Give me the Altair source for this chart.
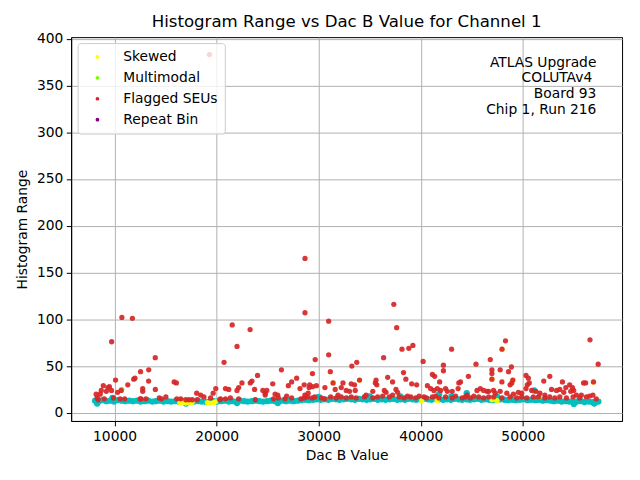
import altair as alt
import pandas as pd

FONT = "DejaVu Sans"

TITLE = "Histogram Range vs Dac B Value for Channel 1"
X_TITLE = "Dac B Value"
Y_TITLE = "Histogram Range"
X_TICKS = [10000, 20000, 30000, 40000, 50000]
Y_TICKS = [0, 50, 100, 150, 200, 250, 300, 350, 400]
ANNOTATION_LINES = ["ATLAS Upgrade", "COLUTAv4", "Board 93", "Chip 1, Run 216"]

CATEGORIES = ["Skewed", "Multimodal", "Flagged SEUs", "Repeat Bin"]
CAT_COLORS = ["#ffff00", "#7cfc00", "#d62728", "#800080"]

# baseline (unflagged) points, cyan
cyan_pts = [
    (8100, 13), (8450, 12.5), (8800, 13.5), (9200, 12.5), (9550, 13), (9950, 12),
    (10300, 13.5), (10700, 13), (11050, 12.5), (11450, 13), (11800, 12.5),
    (12200, 13), (12550, 12), (12950, 12.5), (13300, 13), (13700, 12), (14050, 12.5),
    (14450, 13), (14800, 12), (15200, 12.5), (15550, 12), (15950, 12.5),
    (16300, 12), (16700, 12.5), (17050, 12), (17450, 11.5), (17800, 12), (18200, 12.5),
    (18550, 12), (18950, 11.5), (19300, 12), (19700, 12.5),
    (20050, 12), (20450, 12.5), (20800, 13), (21200, 12), (21550, 12.5), (21950, 12),
    (22300, 13), (22700, 12.5), (23050, 12), (23450, 12.5), (23800, 13),
    (24200, 12.5), (24550, 12), (24950, 12.5), (25300, 13), (25700, 12.5), (26050, 12),
    (26450, 13), (26800, 12.5), (27200, 13), (27550, 12.5), (27950, 13),
    (28300, 13.5), (28700, 14), (29050, 13.5), (29450, 14), (29800, 14.5), (30200, 14),
    (30550, 14.5), (30950, 14), (31300, 15), (31700, 14.5), (32050, 14),
    (32450, 14.5), (32800, 15), (33200, 14.5), (33550, 14), (33950, 15), (34300, 14.5),
    (34700, 14), (35050, 14.5), (35450, 15), (35800, 14), (36200, 14.5),
    (36550, 14), (36950, 14.5), (37300, 15), (37700, 14), (38050, 14.5), (38450, 14),
    (38800, 15), (39200, 14.5), (39550, 14), (39950, 14.5), (40300, 15),
    (40700, 14.5), (41050, 14), (41450, 15), (41800, 14.5), (42200, 14), (42550, 14.5),
    (42950, 14), (43300, 15), (43700, 14.5), (44050, 14), (44450, 14.5),
    (44800, 14), (45200, 14.5), (45550, 15), (45950, 14), (46300, 14.5), (46700, 14),
    (47050, 13.5), (47450, 14), (47800, 14.5), (48200, 14), (48550, 13.5),
    (48950, 14), (49300, 13.5), (49700, 14), (50050, 14.5), (50450, 13.5), (50800, 14),
    (51200, 13.5), (51550, 14), (51950, 13), (52300, 13.5), (52700, 13),
    (53050, 12.5), (53450, 13), (53800, 12), (54200, 12.5), (54550, 12), (54950, 11.5),
    (55300, 12), (55700, 12.5), (56050, 11.5), (56450, 12), (56800, 11.5), (57200, 12),
    (57400, 12),
    (44500, 21), (51100, 24), (41800, 20), (8300, 10), (9800, 16), (17000, 10),
    (26000, 10.5), (35000, 17.5), (43000, 17.5), (47500, 17), (55000, 9.5),
    (57000, 10), (22000, 10.5), (30000, 17), (38000, 17.5),
]

skewed_pts = [
    (16400, 11), (16700, 11), (17000, 10.5), (17300, 11), (17600, 11), (16900, 12.5),
    (19100, 11), (19400, 10.5), (19700, 11), (19900, 12), (40100, 13), (41600, 13),
    (41650, 16), (46970, 14), (47460, 13), (47140, 15),
    (34000, 35), (47960, 68), (46970, 36), (49020, 35), (56920, 33), (31410, 32),
]

multimodal_pts = [(10700, 25), (51600, 17)]

flagged_pts = [
    (8200, 20), (8300, 16), (8400, 14), (8600, 20), (8700, 24), (8900, 29), (9000, 15),
    (9200, 23), (9350, 27), (9500, 28), (9700, 24), (9720, 76), (9900, 16), (10100, 35),
    (10300, 22), (10550, 15), (10650, 24), (10720, 102), (11000, 15), (11300, 30),
    (11750, 101), (11880, 36), (12000, 37), (12500, 15), (12550, 44), (12600, 15),
    (12760, 26), (12760, 23), (13080, 15), (13340, 34), (13350, 46), (13990, 59),
    (14000, 25), (14380, 16), (14600, 15), (15030, 17), (15840, 33), (16060, 32),
    (16100, 15), (16490, 15), (16980, 14), (17300, 14), (17620, 14), (18050, 21),
    (18100, 14), (18440, 19), (18760, 17), (19300, 383), (19410, 16), (19660, 21),
    (19920, 26), (20310, 14), (20380, 15), (20730, 54), (20870, 26), (20870, 15),
    (21190, 25), (21350, 16), (21530, 94), (22000, 24), (22000, 71), (22160, 27),
    (22160, 15), (22480, 32), (23280, 89), (23300, 32), (23460, 34), (23720, 25),
    (23790, 14), (24010, 40), (24530, 24), (24760, 21), (24760, 19), (24920, 24),
    (25500, 31), (25570, 15), (25730, 20), (25990, 19), (26050, 16), (26350, 46),
    (26700, 15), (26860, 18), (27030, 29), (27350, 33), (27350, 16), (27840, 37),
    (28170, 26), (28260, 15), (28580, 30), (28580, 16), (28650, 19), (28660, 165),
    (28660, 107), (28900, 17), (28970, 21), (29060, 27), (29120, 30), (29360, 16),
    (29390, 28), (29390, 42), (29620, 17), (29660, 57), (29780, 29), (30270, 16),
    (30590, 15), (30610, 27), (30980, 98), (30980, 62), (31140, 44), (31170, 17),
    (31410, 32), (31620, 25), (31720, 16), (31890, 19), (32210, 27), (32210, 17),
    (32380, 32), (32700, 24), (32700, 16), (33020, 23), (33190, 31), (33190, 17),
    (33250, 50), (33510, 30), (33580, 24), (33670, 16), (33730, 54), (34000, 35),
    (34480, 17), (34640, 19), (35300, 23), (35300, 16), (35550, 32), (35620, 35),
    (35690, 30), (35780, 17), (36270, 18), (36360, 59), (36430, 24), (36600, 22),
    (36760, 38), (36920, 17), (37240, 33), (37240, 19), (37360, 116), (37570, 25),
    (37640, 91), (37730, 22), (37890, 17), (38160, 68), (38310, 43), (38380, 16),
    (38540, 36), (38700, 18), (38830, 69), (39020, 17), (39110, 31), (39230, 72),
    (39510, 16), (39600, 30), (39840, 18), (40230, 55), (40320, 17), (40550, 16),
    (40650, 29), (40970, 26), (41140, 41), (41140, 17), (41290, 24), (41360, 39),
    (41460, 18), (41620, 26), (41780, 16), (41850, 33), (41940, 24), (42220, 51),
    (42220, 45), (42430, 26), (42430, 17), (42600, 23), (43020, 68), (43080, 23),
    (43080, 16), (43410, 18), (43660, 26), (43730, 32), (43890, 33), (44060, 16),
    (44380, 17), (44540, 19), (44670, 39), (44870, 16), (45200, 18), (45410, 52),
    (45510, 24), (45680, 17), (45840, 26), (46160, 24), (46160, 16), (46490, 23),
    (46650, 23), (46650, 17), (46810, 57), (46970, 46), (46970, 42), (46970, 36),
    (47130, 24), (47140, 17), (47300, 21), (47780, 23), (47780, 46), (47950, 33),
    (47950, 16), (47960, 68), (48300, 77), (48430, 21), (48600, 44), (48750, 30),
    (48750, 17), (48880, 49), (48920, 32), (49020, 35), (49080, 20), (49410, 16),
    (49560, 22), (49890, 21), (49890, 17), (50310, 40), (50310, 26), (50380, 16),
    (50440, 30), (50540, 37), (50630, 32), (50870, 24), (51030, 17), (51280, 23),
    (51520, 17), (51670, 21), (52050, 34), (52160, 19), (52160, 16), (52640, 39),
    (52640, 17), (52810, 25), (53130, 16), (53300, 24), (53620, 25), (53620, 17),
    (53880, 33), (54010, 22), (54210, 27), (54270, 16), (54590, 30), (54690, 23),
    (54860, 27), (54920, 17), (54980, 24), (55240, 19), (55570, 16), (55730, 19),
    (55950, 32), (56150, 32), (56220, 17), (56540, 18), (56580, 78), (56870, 19),
    (56920, 33), (57190, 15), (57380, 52),
]

cyan_df = pd.DataFrame(cyan_pts, columns=["x", "y"])
rows = []
for cat, pts in [("Skewed", skewed_pts), ("Multimodal", multimodal_pts), ("Flagged SEUs", flagged_pts)]:
    for x, y in pts:
        rows.append({"x": x, "y": y, "cat": cat})
cat_df = pd.DataFrame(rows)
cat_df["ord"] = range(len(cat_df))

xscale = alt.Scale(domain=[5750, 59720], nice=False, zero=False)
yscale = alt.Scale(domain=[-8.7, 401.6], nice=False, zero=False)

xenc = alt.X("x:Q", scale=xscale, title=X_TITLE,
             axis=alt.Axis(values=X_TICKS, format="d", titlePadding=5))
yenc = alt.Y("y:Q", scale=yscale, title=Y_TITLE,
             axis=alt.Axis(values=Y_TICKS, format="d", titlePadding=7))

cyan = alt.Chart(cyan_df).mark_circle(size=40, color="#00bfbf", opacity=1).encode(x=xenc, y=yenc)

cats = alt.Chart(cat_df).mark_circle(size=28, opacity=0.93).encode(
    x=xenc, y=yenc,
    color=alt.Color("cat:N",
                    scale=alt.Scale(domain=CATEGORIES, range=CAT_COLORS),
                    legend=alt.Legend(title=None, orient="none", legendX=6.5, legendY=6,
                                      fillColor="rgba(255,255,255,0.8)", strokeColor="#cccccc",
                                      cornerRadius=3, padding=7, symbolType="circle",
                                      symbolSize=14, symbolOffset=6, labelOffset=19,
                                      rowPadding=6, labelFontSize=13.9, labelFont=FONT,
                                      labelColor="black", symbolStrokeWidth=0,
                                      symbolOpacity=1, labelLimit=300)),
    order=alt.Order("ord:Q"),
)

ann_layers = []
ann_x = [528.2, 524.0, 528.2, 528.2]
ann_y = [26.3, 41.5, 57.3, 73.5]
for line, ax, ay in zip(ANNOTATION_LINES, ann_x, ann_y):
    ann_layers.append(
        alt.Chart(pd.DataFrame({"t": [line]})).mark_text(
            align="right", baseline="middle", fontSize=13.9, font=FONT, color="black"
        ).encode(x=alt.value(ax), y=alt.value(ay), text="t:N")
    )

chart = alt.layer(cyan, cats, *ann_layers).properties(
    width=554, height=386,
    title=alt.TitleParams(TITLE, fontSize=16.7, font=FONT, fontWeight="normal", color="black", offset=1),
    autosize=alt.AutoSizeParams(type="none"),
    padding={"left": 63.5, "top": 28, "right": 10, "bottom": 50},
).configure_view(stroke="black", strokeWidth=1).configure_axis(
    domainColor="black", domainWidth=1, tickColor="black", tickSize=4.9, tickWidth=1,
    labelFont=FONT, labelFontSize=13.9, labelColor="black", labelPadding=3.5,
    titleFont=FONT, titleFontSize=13.9, titleFontWeight="normal", titleColor="black",
    gridColor="#b0b0b0", gridWidth=1, grid=True,
)

chart.save("out.html", embed_options={"renderer": "svg", "actions": False})
